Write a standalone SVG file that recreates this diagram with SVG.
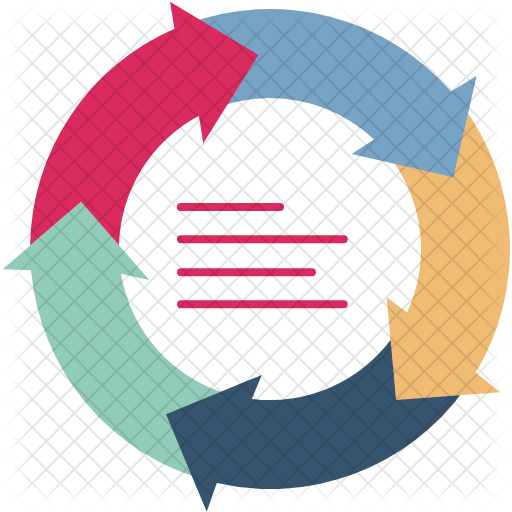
<svg xmlns="http://www.w3.org/2000/svg" width="512" height="512" viewBox="0 0 512 512">
  <style>
    .red{fill:#D92B5D}
    .blue{fill:#77A3C5}
    .orange{fill:#F0BB73}
    .navy{fill:#37546F}
    .teal{fill:#91CCBA}
    .txt{stroke:#D92B5D;stroke-width:8;stroke-linecap:round;fill:none}
  </style>
  <defs>
    <pattern id="grid" patternUnits="userSpaceOnUse" x="7.2" y="1.1" width="19.8" height="19.8" patternTransform="rotate(45)">
      <rect width="19.8" height="2" fill="#000"/>
      <rect width="2" height="19.8" fill="#000"/>
    </pattern>
    <filter id="soft" x="-20%" y="-20%" width="140%" height="140%">
      <feGaussianBlur stdDeviation="9"/>
    </filter>
    <mask id="fade" maskUnits="userSpaceOnUse" x="0" y="0" width="512" height="512">
      <rect x="18" y="18" width="476" height="476" fill="#fff" filter="url(#soft)"/>
    </mask>
  </defs>
  <rect width="512" height="512" fill="#fff"/>
  <g id="cycle">
    <g id="arrow-teal">
      <path class="teal" d="M207.9,480.8 A240,240 0 0 1 31,270.3 L2.7,269.3 L81,201.7 L149.3,280 L121,273.7 A151,151 0 0 0 230.9,394.9 Z"/>
    </g>
    <g id="arrow-navy">
      <path class="navy" d="M464.2,390.1 A240,240 0 0 1 216.8,483 L206.7,511.7 L166,414.3 L261.7,375 L251.9,398.9 A151,151 0 0 0 392.2,337.8 Z"/>
    </g>
    <g id="arrow-orange">
      <path class="orange" d="M461.7,104.6 A240,240 0 0 1 475.7,372.6 L500,392.3 L396,400 L386.7,297.3 L407,312.6 A151,151 0 0 0 390.6,158.1 Z"/>
    </g>
    <g id="arrow-blue">
      <path class="blue" d="M187.9,23.5 A240,240 0 0 1 451.1,91.5 L476.7,75.7 L453.3,177.3 L351.7,154 L373.9,139.5 A151,151 0 0 0 218.4,107.1 Z"/>
    </g>
    <g id="arrow-red">
      <path class="red" d="M30.1,245.6 A240,240 0 0 1 174.5,28.8 L170,1.7 L258.3,55 L203.3,143.3 L198.9,115.8 A151,151 0 0 0 119,245.3 L81,201.7 Z"/>
    </g>
  </g>
  <g id="text-lines">
    <line class="txt" x1="181" y1="207" x2="280" y2="207"/>
    <line class="txt" x1="181" y1="239.3" x2="343.7" y2="239.3"/>
    <line class="txt" x1="181" y1="272.3" x2="312" y2="272.3"/>
    <line class="txt" x1="181" y1="304.3" x2="343.7" y2="304.3"/>
  </g>
  <g id="connectors"/>
  <rect width="512" height="512" fill="url(#grid)" opacity="0.1" mask="url(#fade)"/>
</svg>
